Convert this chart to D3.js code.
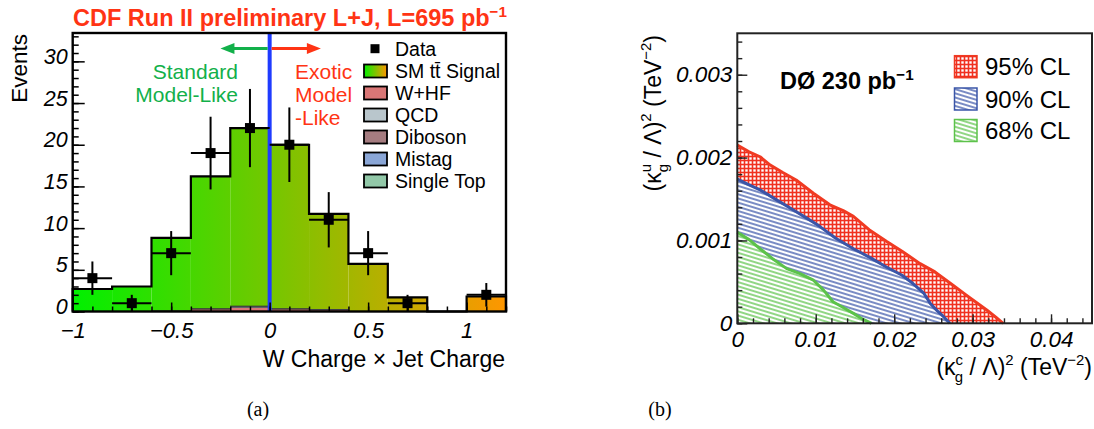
<!DOCTYPE html>
<html><head><meta charset="utf-8">
<script src="https://cdn.jsdelivr.net/npm/d3@7/dist/d3.min.js"></script>
<style>body{margin:0;background:#fff}svg{display:block}</style>
</head><body>
<svg id="c" width="1094" height="429"></svg>
<script>
// ---------- DATA: panel (a) ----------
const binLow  = [-1,-0.8,-0.6,-0.4,-0.2,0,0.2,0.4,0.6,0.8,1.0];
const binHigh = [-0.8,-0.6,-0.4,-0.2,0,0.2,0.4,0.6,0.8,1.0,1.2];
const signal    = [2.7,3.0,8.7,15.8,21.3,19.6,11.4,5.7,1.7,0,1.8];
const wHF       = [0,0,0.08,0.3,0.5,0.3,0.2,0,0,0,0];
const qcd       = [0,0,0.03,0.05,0.1,0.05,0.05,0,0,0,0];
const diboson   = [0,0,0,0.02,0.04,0.02,0.02,0,0,0,0];
const mistag    = [0,0,0.03,0.03,0.06,0.03,0.03,0,0,0,0];
const singleTop = [0,0,0,0,0,0,0,0,0,0,0];
const dataVals  = [4,1,7,19,22,20,11,7,1,null,2];
const xTicksA = [-1,-0.5,0,0.5,1];
const yTicksA = [0,5,10,15,20,25,30];
const legendA = ["Data","SM t\u0074\u0304 Signal","W+HF","QCD","Diboson","Mistag","Single Top"];
const legendAColors = [null,"grad","#d97676","#b9c6cc","#a57c80","#8aa6d6","#92c8a8"];

// ---------- DATA: panel (b) ----------
const cl95X = [0,0.0015,0.0029,0.0042,0.0058,0.0075,0.0097,0.0118,0.0135,0.0148,0.0168,0.019,0.021,0.0233,0.0252,0.0275,0.0292,0.0318,0.033,0.0339];
const cl95Y = [0.00215,0.00207,0.00201,0.00191,0.00182,0.00173,0.00157,0.00143,0.00136,0.00129,0.00113,0.00099,0.00087,0.00072,0.00062,0.00046,0.00034,0.00016,0.00007,0];
const cl90X = [0,0.0015,0.0029,0.005,0.0071,0.009,0.0105,0.0125,0.0148,0.017,0.019,0.021,0.0224,0.0238,0.0246,0.0255,0.0263,0.0271];
const cl90Y = [0.00174,0.00167,0.00161,0.00149,0.00137,0.00126,0.00117,0.00103,0.00090,0.00079,0.00068,0.00058,0.00048,0.00036,0.00024,0.00015,0.00008,0];
const cl68X = [0,0.0015,0.0029,0.0045,0.0063,0.008,0.0097,0.011,0.0122,0.0135,0.0148,0.016,0.0171];
const cl68Y = [0.0011,0.00101,0.00090,0.00078,0.00066,0.00060,0.00052,0.00040,0.00026,0.00019,0.00012,0.00005,0];
const xTicksB = [0,0.01,0.02,0.03,0.04];
const yTicksB = [0,0.001,0.002,0.003];
const legendB = ["95% CL","90% CL","68% CL"];

const svg = d3.select("#c");
svg.append("rect").attr("width",1094).attr("height",429).attr("fill","#fff");
const SANS = "'Liberation Sans', Arial, Helvetica, sans-serif";
const defs = svg.append("defs");

function rich(t, segs, size){
  let cur = 0;
  segs.forEach(s=>{
    const off = (s.off||0)*size;
    const ts = t.append("tspan").text(s.t).attr("dy", off-cur)
      .attr("font-size", s.small ? size*0.65 : size);
    if (s.dx) ts.attr("dx", s.dx*size);
    cur = off;
  });
  return t;
}
function txt(g,x,y,s,o){
  const t=g.append("text").attr("x",x).attr("y",y).attr("font-family",SANS).attr("font-size",o.size)
    .attr("text-anchor",o.anchor||"start").attr("fill",o.fill||"#000");
  if(o.weight) t.attr("font-weight",o.weight);
  if(o.style) t.attr("font-style",o.style);
  if(s!==null) t.text(s);
  return t;
}

// ================= PANEL (a) =================
const xL = d3.scaleLinear().domain([-1,1.2]).range([72.7,506]);
const yL = d3.scaleLinear().domain([0,33.4]).range([311.5,33]);
const gA = svg.append("g");

const grad = defs.append("linearGradient").attr("id","sig").attr("gradientUnits","userSpaceOnUse")
  .attr("x1",xL(-1)).attr("x2",xL(1.2)).attr("y1",0).attr("y2",0);
grad.append("stop").attr("offset","0").attr("stop-color","#00f000");
grad.append("stop").attr("offset","1").attr("stop-color","#ff9600");
const grad2 = defs.append("linearGradient").attr("id","sigLeg");
grad2.append("stop").attr("offset","0").attr("stop-color","#00f000");
grad2.append("stop").attr("offset","1").attr("stop-color","#ff9600");

const layers = [wHF,qcd,diboson,mistag,singleTop,signal];
const layerFill = ["#d97676","#b9c6cc","#a57c80","#8aa6d6","#92c8a8","url(#sig)"];
const cum = binLow.map(()=>0);
const stepLine = d3.line().x(d=>xL(d[0])).y(d=>yL(d[1]));
layers.forEach((L,li)=>{
  const base = cum.slice();
  binLow.forEach((lo,i)=>{ cum[i]+=L[i]; });
  gA.append("g").selectAll("rect").data(binLow).join("rect")
    .attr("x",(d,i)=>xL(binLow[i])).attr("width",(d,i)=>xL(binHigh[i])-xL(binLow[i]))
    .attr("y",(d,i)=>yL(cum[i])).attr("height",(d,i)=>Math.max(0,yL(base[i])-yL(cum[i])))
    .attr("fill",layerFill[li]);
  if (li < layers.length-1){
    binLow.forEach((lo,i)=>{ if(L[i]>0) gA.append("path").attr("d",stepLine([[binLow[i],cum[i]],[binHigh[i],cum[i]]])).attr("stroke","#333").attr("stroke-width",1.2).attr("fill","none"); });
  }
});
// total outline
const outline=[[binLow[0],0]];
binLow.forEach((lo,i)=>{ outline.push([binLow[i],cum[i]],[binHigh[i],cum[i]]); });
outline.push([binHigh[binHigh.length-1],0]);
gA.append("path").attr("d",stepLine(outline)).attr("fill","none").attr("stroke","#000").attr("stroke-width",2.2);

// blue line at 0
gA.append("line").attr("x1",xL(0.0)).attr("x2",xL(0.0)).attr("y1",yL(33.4)).attr("y2",yL(0))
  .attr("stroke","#1f3bff").attr("stroke-width",4);

// axes
function styleAxis(g){ g.select(".domain").remove(); g.selectAll("line").attr("stroke","#000").attr("stroke-width",1.5); }
gA.append("g").attr("transform",`translate(${xL(-1)},0)`)
  .call(d3.axisLeft(yL).tickValues(d3.range(0,34,1)).tickSize(-6).tickFormat("")).call(styleAxis);
gA.append("g").attr("transform",`translate(${xL(-1)},0)`)
  .call(d3.axisLeft(yL).tickValues(yTicksA).tickSize(-12).tickPadding(5).tickFormat(d3.format("d"))).call(styleAxis)
  .selectAll("text").attr("font-family",SANS).attr("font-style","italic").attr("font-size",21.5).attr("fill","#000").attr("dy","0.1em");
gA.append("g").attr("transform",`translate(0,${yL(0)})`)
  .call(d3.axisBottom(xL).tickValues(d3.range(-1,1.21,0.1)).tickSize(-5).tickFormat("")).call(styleAxis);
gA.append("g").attr("transform",`translate(0,${yL(0)})`)
  .call(d3.axisBottom(xL).tickValues(xTicksA).tickSize(-9).tickPadding(11).tickFormat(d3.format("~g"))).call(styleAxis)
  .selectAll("text").attr("font-family",SANS).attr("font-style","italic").attr("font-size",22).attr("fill","#000");

// data points
const dIdx = dataVals.map((v,i)=>i).filter(i=>dataVals[i]!==null);
const gD = gA.append("g");
dIdx.forEach(i=>{
  const c=(binLow[i]+binHigh[i])/2, v=dataVals[i], e=Math.sqrt(v);
  gD.append("line").attr("x1",xL(binLow[i])).attr("x2",xL(binHigh[i])).attr("y1",yL(v)).attr("y2",yL(v)).attr("stroke","#000").attr("stroke-width",2);
  gD.append("line").attr("x1",xL(c)).attr("x2",xL(c)).attr("y1",yL(v+e)).attr("y2",yL(Math.max(0,v-e))).attr("stroke","#000").attr("stroke-width",2);
  gD.append("rect").attr("x",xL(c)-5).attr("y",yL(v)-5).attr("width",10).attr("height",10).attr("fill","#000");
});

// frame
gA.append("rect").attr("x",xL(-1)).attr("y",yL(33.4)).attr("width",xL(1.2)-xL(-1)).attr("height",yL(0)-yL(33.4))
  .attr("fill","none").attr("stroke","#000").attr("stroke-width",2.4);

// arrows
const arrowY = 48.5;
const GREEN="#12b04a", RED="#ff3414";
function arrow(x0,x1,col){
  const dir = Math.sign(x1-x0);
  gA.append("line").attr("x1",x0).attr("x2",x1-dir*10).attr("y1",arrowY).attr("y2",arrowY).attr("stroke",col).attr("stroke-width",3);
  gA.append("path").attr("d",`M${x1},${arrowY} L${x1-dir*14},${arrowY-5.5} L${x1-dir*14},${arrowY+5.5}Z`).attr("fill",col);
}
arrow(xL(0)-2, xL(-0.25), GREEN);
arrow(xL(0)+2, xL(0.26), RED);

// annotations
txt(gA,238,79,"Standard",{size:21,anchor:"end",fill:GREEN});
txt(gA,238,101.7,"Model-Like",{size:21,anchor:"end",fill:GREEN});
txt(gA,295,79,"Exotic",{size:21,fill:RED});
txt(gA,295,101.7,"Model",{size:21,fill:RED});
txt(gA,295,124.5,"-Like",{size:21,fill:RED});

// title
rich(txt(svg,507,25.5,null,{size:23.5,anchor:"end",weight:"bold",fill:"#ff3414"}),
  [{t:"CDF Run II preliminary L+J, L=695 pb"},{t:"\u22121",small:true,off:-0.38}],23.5);
// y title
txt(svg,0,0,"Events",{size:22.5,anchor:"end"}).attr("transform","translate(27,34) rotate(-90)");
// x title
txt(svg,505,367,"W Charge \u00d7 Jet Charge",{size:23,anchor:"end"});

// legend (a)
const legY = [48.7,71,93,115,137,159,181];
legendA.forEach((lab,i)=>{
  const y=legY[i];
  if(i===0){
    gA.append("rect").attr("x",375-4.5).attr("y",y-4.5).attr("width",9).attr("height",9).attr("fill","#000");
  } else {
    gA.append("rect").attr("x",364).attr("y",y-6.5).attr("width",23).attr("height",13)
      .attr("fill",legendAColors[i]==="grad"?"url(#sigLeg)":legendAColors[i]).attr("stroke","#000").attr("stroke-width",1.8);
  }
  txt(gA,395,y+7,lab,{size:19.5});
});

// ================= PANEL (b) =================
const xR = d3.scaleLinear().domain([0,0.04535]).range([737.3,1093]);
const yR = d3.scaleLinear().domain([0,0.0035]).range([323.3,33.3]);
const gB = svg.append("g");

const pR = defs.append("pattern").attr("id","pRed").attr("patternUnits","userSpaceOnUse").attr("width",4).attr("height",4);
pR.append("rect").attr("width",4).attr("height",4).attr("fill","#f0301f");
pR.append("rect").attr("x",1.3).attr("y",1.3).attr("width",2.4).attr("height",2.4).attr("fill","#fff");
function hatch(id,col){
  const p=defs.append("pattern").attr("id",id).attr("patternUnits","userSpaceOnUse").attr("width",12).attr("height",4)
    .attr("patternTransform","rotate(17)");
  p.append("rect").attr("width",12).attr("height",4).attr("fill","#fff");
  p.append("line").attr("x1",0).attr("x2",12).attr("y1",2).attr("y2",2).attr("stroke",col).attr("stroke-width",1.35);
}
hatch("pBlue","#3a55a8");
hatch("pGreen","#5cc24a");

const regions = [
  {X:cl95X,Y:cl95Y,fill:"url(#pRed)",line:"#f03a22"},
  {X:cl90X,Y:cl90Y,fill:"url(#pBlue)",line:"#3a55a8"},
  {X:cl68X,Y:cl68Y,fill:"url(#pGreen)",line:"#5cc24a"}
];
const lineB = d3.line().x(d=>xR(d[0])).y(d=>yR(d[1]));
regions.forEach(r=>{
  const pts = r.X.map((x,i)=>[x,r.Y[i]]);
  gB.append("path").attr("d",lineB([[0,0],...pts])+"Z").attr("fill","#fff");
  gB.append("path").attr("d",lineB([[0,0],...pts])+"Z").attr("fill",r.fill);
});
regions.forEach(r=>{
  const pts = r.X.map((x,i)=>[x,r.Y[i]]);
  gB.append("path").attr("d",lineB(pts)).attr("fill","none").attr("stroke",r.line).attr("stroke-width",3).attr("stroke-linejoin","round");
});

function styleAxisB(g){ g.select(".domain").remove(); g.selectAll("line").attr("stroke","#222").attr("stroke-width",1.4); }
gB.append("g").attr("transform",`translate(${xR(0)},0)`)
  .call(d3.axisLeft(yR).tickValues(d3.range(0,0.00351,0.0002)).tickSize(-5).tickFormat("")).call(styleAxisB);
gB.append("g").attr("transform",`translate(${xR(0)},0)`)
  .call(d3.axisLeft(yR).tickValues(yTicksB).tickSize(-10).tickPadding(5).tickFormat(d=>d===0?"0":d3.format(".3f")(d))).call(styleAxisB)
  .selectAll("text").attr("font-family",SANS).attr("font-style","italic").attr("font-size",22.5).attr("fill","#000");
gB.append("g").attr("transform",`translate(0,${yR(0)})`)
  .call(d3.axisBottom(xR).tickValues(d3.range(0,0.0454,0.002)).tickSize(-5).tickFormat("")).call(styleAxisB);
gB.append("g").attr("transform",`translate(0,${yR(0)})`)
  .call(d3.axisBottom(xR).tickValues(xTicksB).tickSize(-9).tickPadding(8).tickFormat(d=>d===0?"0":d3.format(".2f")(d))).call(styleAxisB)
  .selectAll("text").attr("font-family",SANS).attr("font-style","italic").attr("font-size",22.5).attr("fill","#000");

gB.append("rect").attr("x",xR(0)).attr("y",yR(0.0035)).attr("width",xR(0.04535)-xR(0)-1).attr("height",yR(0)-yR(0.0035))
  .attr("fill","none").attr("stroke","#222").attr("stroke-width",2);

// D0 label
rich(txt(gB,780,89,null,{size:23.5,weight:"bold"}),[{t:"D\u00d8 230 pb"},{t:"\u22121",small:true,off:-0.4}],23.5);

// legend (b)
const legBY=[66.7,99,130.5];
const legBFill=["url(#pRed)","url(#pBlue)","url(#pGreen)"];
const legBLine=["#f03a22","#3a55a8","#5cc24a"];
legendB.forEach((lab,i)=>{
  gB.append("rect").attr("x",954.5).attr("y",legBY[i]-11).attr("width",22.5).attr("height",22).attr("fill",legBFill[i]).attr("stroke",legBLine[i]).attr("stroke-width",1.5);
  txt(gB,985,legBY[i]+8.5,lab,{size:24});
});

// axis titles (b)
const titleSegs = (sup)=>[{t:"(\u03ba"},{t:sup,small:true,off:-0.42},{t:"g",small:true,off:0.3,dx:-0.36},{t:" / \u039b)",off:0},{t:"2",small:true,off:-0.42},{t:" (TeV",off:0},{t:"\u22122",small:true,off:-0.42},{t:")",off:0}];
rich(txt(svg,1092,375,null,{size:23,anchor:"end"}), titleSegs("c"), 23);
rich(txt(svg,0,0,null,{size:23,anchor:"end"}).attr("transform","translate(661,35) rotate(-90)"), titleSegs("u"), 23);

// captions
const SERIF="'Liberation Serif','DejaVu Serif',serif";
txt(svg,258,416,"(a)",{size:20,anchor:"middle"}).attr("font-family",SERIF);
txt(svg,660,416,"(b)",{size:20,anchor:"middle"}).attr("font-family",SERIF);
</script>
</body></html>
